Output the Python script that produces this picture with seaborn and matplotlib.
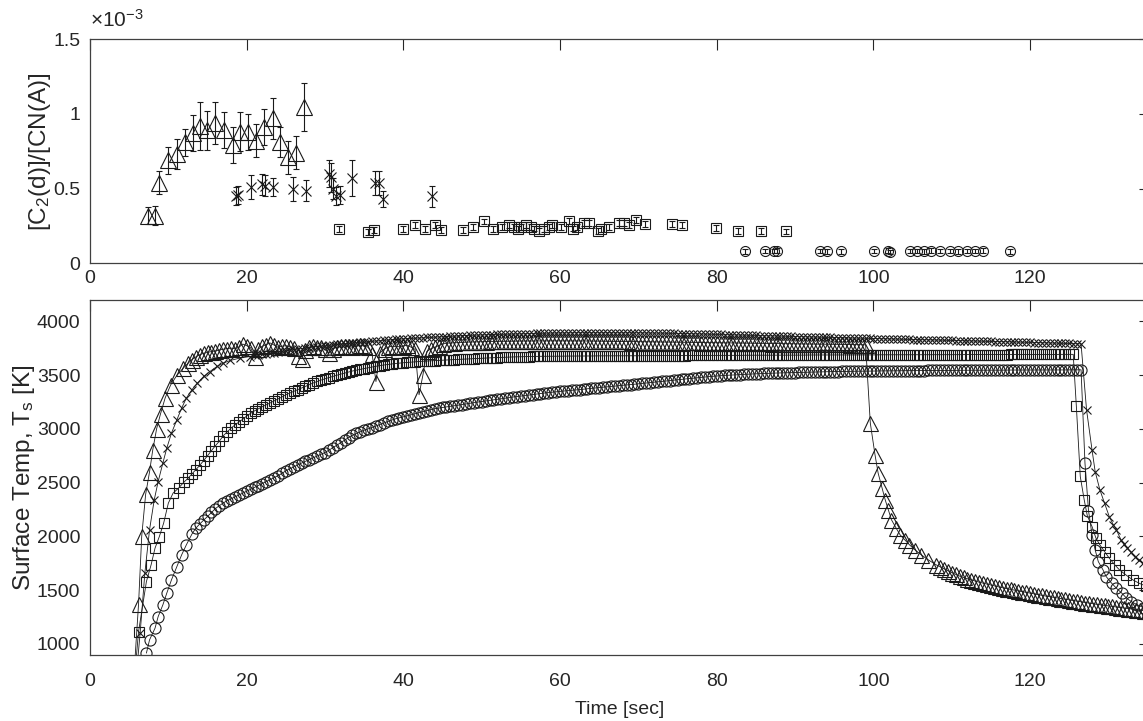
import matplotlib
matplotlib.use("Agg")
import matplotlib.pyplot as plt
import seaborn as sns
from matplotlib.ticker import FuncFormatter


def half_steps(a, b):
    """Sampling instants every 0.5 s from a to b (inclusive)."""
    n = int(round((b - a) / 0.5)) + 1
    return [a + 0.5 * i for i in range(n)]


# ---------------- top panel: [C2(d)]/[CN(A)] ratio (units of 1e-3) ----------------
tri_top_t = [7.4, 8.3, 8.8, 10.0, 11.1, 12.1, 13.1, 14.0, 14.9, 16.0, 17.1, 18.2, 19.1,
             20.2, 21.2, 22.2, 23.3, 24.3, 25.3, 26.3, 27.3]
tri_top_v = [0.32, 0.32, 0.54, 0.69, 0.73, 0.81, 0.87, 0.92, 0.89, 0.94, 0.89, 0.79, 0.88,
             0.88, 0.82, 0.91, 0.97, 0.81, 0.71, 0.74, 1.045]
tri_top_e = [0.06, 0.065, 0.075, 0.09, 0.10, 0.09, 0.12, 0.16, 0.13, 0.14, 0.12, 0.12, 0.13,
             0.12, 0.11, 0.12, 0.14, 0.10, 0.11, 0.11, 0.16]

x_top_t = [18.6, 18.9, 20.5, 21.9, 22.4, 23.3, 25.9, 27.6, 30.5, 30.7, 31.0, 31.4, 31.85,
           33.5, 36.4, 36.9, 37.4, 43.7]
x_top_v = [0.45, 0.46, 0.51, 0.53, 0.52, 0.51, 0.50, 0.485, 0.60, 0.575, 0.50, 0.45, 0.46,
           0.57, 0.54, 0.54, 0.43, 0.45]
x_top_e = [0.06, 0.06, 0.08, 0.07, 0.07, 0.06, 0.08, 0.07, 0.09, 0.10, 0.07, 0.06, 0.06,
           0.12, 0.08, 0.08, 0.055, 0.07]

sq_top_t = [31.8, 35.5, 36.2, 40.0, 41.5, 42.8, 44.0, 44.8, 47.6, 48.9, 50.3, 51.4, 52.6,
            53.5, 54.1, 54.6, 55.0, 55.6, 56.3, 56.7, 57.3, 58.0, 58.6, 59.0, 60.1, 61.1,
            61.6, 62.2, 63.1, 63.7, 64.8, 65.2, 66.2, 67.5, 68.2, 68.8, 69.7, 70.9, 74.3,
            75.5, 79.9, 82.7, 85.6, 88.8]
sq_top_v = [0.23, 0.21, 0.22, 0.23, 0.255, 0.23, 0.255, 0.22, 0.22, 0.24, 0.28, 0.23, 0.24,
            0.255, 0.24, 0.23, 0.245, 0.255, 0.24, 0.233, 0.217, 0.23, 0.245, 0.255, 0.24,
            0.284, 0.233, 0.24, 0.268, 0.27, 0.217, 0.23, 0.245, 0.268, 0.27, 0.255, 0.29,
            0.26, 0.26, 0.255, 0.235, 0.217, 0.217, 0.213]
sq_top_e = 0.02

circ_top_t = [83.6, 86.2, 87.3, 87.7, 93.2, 94.1, 95.8, 100.1, 101.8, 102.1, 104.7, 105.5,
              106.4, 107.4, 108.5, 109.8, 110.8, 111.9, 112.95, 114.0, 117.4]
circ_top_v = [0.08, 0.083, 0.083, 0.085, 0.083, 0.08, 0.08, 0.083, 0.085, 0.075, 0.083,
              0.083, 0.08, 0.085, 0.083, 0.083, 0.08, 0.083, 0.083, 0.085, 0.08]
circ_top_e = 0.015

# ---------------- bottom panel: surface temperature [K] ----------------
# triangles
tri_t = ([5.6, 6.2, 6.6, 7.1, 7.6, 8.0, 8.5, 9.0, 9.6, 10.3, 11.1, 11.9]
         + half_steps(12.5, 99.0)
         + [99.6, 100.2, 100.6, 101.1, 101.5, 101.9, 102.3, 102.9, 103.4, 104.0, 104.6, 105.3,
            106.1, 107.0, 108.0]
         + half_steps(108.5, 135.0))
tri_T = ([700, 1372, 2000, 2390, 2600, 2800, 3000, 3140, 3290, 3410, 3500, 3566]
         + [3610, 3645, 3670, 3690, 3704, 3712, 3720, 3726, 3735, 3742,
            3748, 3752, 3746, 3760, 3790, 3775, 3755, 3674, 3745, 3770,
            3785, 3800, 3780, 3760, 3770, 3775, 3765, 3750, 3680, 3655,
            3730, 3760, 3770, 3765, 3760, 3740, 3706, 3745, 3762, 3770,
            3775, 3768, 3760, 3772, 3780, 3770, 3760, 3700, 3441, 3706,
            3740, 3760, 3770, 3768, 3765, 3772, 3780, 3760, 3740, 3318,
            3504, 3721, 3745, 3760, 3775, 3790, 3798, 3800, 3803, 3805,
            3807, 3808, 3809, 3810, 3811, 3812, 3813, 3814, 3814, 3815,
            3815, 3816, 3816, 3817, 3817, 3818, 3818, 3818, 3819, 3819,
            3819, 3819, 3820, 3820, 3820, 3820, 3820, 3819, 3819, 3819,
            3819, 3818, 3818, 3818, 3817, 3817, 3816, 3816, 3815, 3815,
            3815, 3814, 3814, 3813, 3813, 3812, 3812, 3811, 3811, 3810,
            3810, 3809, 3809, 3808, 3808, 3807, 3807, 3806, 3806, 3805,
            3805, 3804, 3804, 3803, 3803, 3802, 3802, 3801, 3801, 3800,
            3800, 3799, 3799, 3798, 3798, 3797, 3797, 3796, 3796, 3795,
            3795, 3794, 3794, 3793, 3793, 3792, 3792, 3791, 3791, 3790,
            3790, 3789, 3789, 3788, 3788, 3787, 3787, 3786, 3786, 3785,
            3785, 3784, 3784, 3783]
         + [3054, 2759, 2588, 2449, 2340, 2247, 2154, 2076, 2014, 1967, 1921, 1874, 1828,
            1781, 1735]
         + [1716, 1698, 1680, 1662, 1646, 1630, 1617, 1605, 1594, 1583,
            1573, 1564, 1554, 1545, 1537, 1529, 1521, 1514, 1506, 1499,
            1492, 1485, 1478, 1471, 1464, 1458, 1451, 1444, 1438, 1432,
            1426, 1420, 1414, 1408, 1402, 1396, 1390, 1384, 1378, 1373,
            1367, 1362, 1357, 1352, 1347, 1342, 1337, 1332, 1327, 1322,
            1317, 1313, 1309, 1305])

# crosses
x_t = ([5.9, 6.4, 7.0, 7.6, 8.2, 8.7, 9.3, 9.8, 10.4, 11.1, 11.7, 12.3, 13.0, 13.7, 14.5,
        15.3, 16.2, 17.0, 17.9, 19.1, 20.4]
       + half_steps(21.0, 126.5)
       + [127.2, 127.9, 128.3, 128.9, 129.5, 130.1, 130.6, 131.0, 131.6, 132.0, 132.4, 132.9,
          133.4, 133.9, 134.4, 135.0])
x_T = ([700, 1100, 1657, 2061, 2340, 2510, 2682, 2821, 2961, 3085, 3194, 3287, 3364, 3426,
        3488, 3534, 3581, 3612, 3637, 3659, 3674]
       + [3684, 3690, 3695, 3700, 3706, 3711, 3716, 3722, 3727, 3733,
          3738, 3743, 3748, 3752, 3757, 3762, 3766, 3770, 3774, 3778,
          3782, 3786, 3790, 3794, 3797, 3800, 3804, 3807, 3810, 3813,
          3816, 3819, 3822, 3825, 3828, 3830, 3833, 3835, 3838, 3840,
          3843, 3845, 3847, 3849, 3851, 3853, 3855, 3857, 3859, 3860,
          3862, 3864, 3866, 3867, 3869, 3870, 3872, 3873, 3875, 3876,
          3877, 3878, 3880, 3881, 3882, 3883, 3884, 3885, 3886, 3887,
          3888, 3888, 3889, 3890, 3891, 3891, 3892, 3892, 3893, 3893,
          3894, 3894, 3895, 3895, 3895, 3895, 3896, 3896, 3896, 3896,
          3896, 3896, 3896, 3895, 3895, 3895, 3895, 3894, 3894, 3893,
          3893, 3892, 3892, 3891, 3891, 3890, 3890, 3889, 3888, 3887,
          3887, 3886, 3885, 3884, 3884, 3883, 3882, 3881, 3880, 3879,
          3878, 3877, 3876, 3875, 3874, 3873, 3872, 3871, 3870, 3869,
          3868, 3867, 3866, 3865, 3864, 3863, 3862, 3861, 3860, 3859,
          3858, 3857, 3856, 3855, 3854, 3853, 3852, 3851, 3850, 3849,
          3848, 3847, 3846, 3846, 3845, 3844, 3843, 3842, 3841, 3840,
          3839, 3839, 3838, 3837, 3836, 3835, 3834, 3833, 3832, 3831,
          3830, 3830, 3829, 3828, 3827, 3826, 3825, 3824, 3823, 3822,
          3821, 3821, 3820, 3819, 3818, 3817, 3816, 3815, 3814, 3813,
          3812, 3812, 3811, 3810, 3809, 3808, 3807, 3806, 3805, 3804,
          3803, 3803, 3802, 3801, 3800, 3799, 3798, 3797, 3796, 3795,
          3794, 3792]
       + [3178, 2805, 2603, 2433, 2309, 2184, 2110, 2061, 1967, 1930, 1890, 1850, 1812, 1780,
          1750, 1720])

# squares
sq_t = ([5.7, 6.2, 7.2, 7.8, 8.3, 8.85, 9.4, 10.0, 10.6, 11.3, 12.0]
        + half_steps(12.5, 125.5)
        + [125.9, 126.4, 126.9, 127.3, 127.9, 128.4, 128.9, 129.5, 130.1, 130.8, 131.4, 132.2,
           133.1, 133.9, 134.8])
sq_T = ([700, 1114, 1579, 1735, 1890, 1998, 2123, 2309, 2402, 2449, 2505]
        + [2540, 2580, 2620, 2660, 2705, 2750, 2798, 2843, 2885, 2935,
           2972, 3007, 3037, 3064, 3090, 3120, 3145, 3168, 3188, 3207,
           3224, 3242, 3260, 3278, 3297, 3318, 3334, 3350, 3365, 3380,
           3396, 3412, 3428, 3442, 3455, 3467, 3478, 3489, 3500, 3510,
           3520, 3530, 3539, 3547, 3555, 3562, 3569, 3576, 3583, 3590,
           3595, 3600, 3605, 3609, 3613, 3616, 3619, 3622, 3625, 3628,
           3630, 3632, 3634, 3636, 3638, 3640, 3642, 3643, 3645, 3647,
           3649, 3650, 3652, 3654, 3656, 3658, 3660, 3661, 3663, 3664,
           3666, 3667, 3669, 3670, 3671, 3672, 3673, 3674, 3675, 3675,
           3676, 3676, 3677, 3677, 3677, 3677, 3678, 3678, 3678, 3678,
           3679, 3679, 3679, 3679, 3680, 3680, 3680, 3680, 3680, 3680,
           3681, 3681, 3681, 3681, 3681, 3681, 3682, 3682, 3682, 3682,
           3682, 3682, 3683, 3683, 3683, 3683, 3683, 3683, 3684, 3684,
           3684, 3684, 3684, 3684, 3685, 3685, 3685, 3685, 3685, 3685,
           3685, 3685, 3686, 3686, 3686, 3686, 3686, 3686, 3686, 3686,
           3687, 3687, 3687, 3687, 3687, 3687, 3687, 3687, 3688, 3688,
           3688, 3688, 3688, 3688, 3688, 3688, 3688, 3688, 3689, 3689,
           3689, 3689, 3689, 3689, 3689, 3689, 3690, 3690, 3690, 3690,
           3690, 3690, 3690, 3690, 3690, 3690, 3690, 3690, 3691, 3691,
           3691, 3691, 3691, 3691, 3691, 3691, 3691, 3691, 3692, 3692,
           3692, 3692, 3692, 3692, 3692, 3692, 3692, 3692, 3692, 3692,
           3693, 3693, 3693, 3693, 3693, 3693, 3693, 3693, 3693, 3693,
           3693, 3693, 3694, 3694, 3694, 3694, 3694]
        + [3209, 2557, 2340, 2191, 2091, 1983, 1921, 1858, 1797, 1735, 1688, 1642, 1595, 1564,
           1535])

# circles
circ_t = ([7.2, 7.6, 8.3, 8.7, 9.3, 9.8, 10.4, 11.1, 11.7, 12.3]
          + half_steps(13.0, 126.5)
          + [127.0, 127.45, 127.9, 128.3, 128.7, 129.3, 129.7, 130.4, 131.0, 131.7, 132.3,
             132.9, 133.7, 134.5])
circ_T = ([913, 1036, 1145, 1253, 1362, 1471, 1595, 1719, 1828, 1921]
          + [2020, 2075, 2115, 2150, 2185, 2222, 2258, 2285, 2310, 2332,
             2348, 2367, 2384, 2402, 2420, 2437, 2455, 2473, 2491, 2510,
             2528, 2546, 2564, 2586, 2610, 2628, 2645, 2664, 2682, 2698,
             2715, 2731, 2748, 2764, 2780, 2802, 2825, 2848, 2870, 2895,
             2920, 2940, 2958, 2973, 2988, 3000, 3013, 3027, 3040, 3055,
             3070, 3082, 3094, 3103, 3112, 3122, 3132, 3142, 3152, 3161,
             3170, 3179, 3188, 3194, 3200, 3205, 3210, 3215, 3221, 3227,
             3233, 3239, 3245, 3250, 3255, 3260, 3265, 3270, 3275, 3280,
             3286, 3291, 3297, 3301, 3306, 3310, 3315, 3320, 3325, 3329,
             3334, 3338, 3342, 3346, 3350, 3353, 3356, 3359, 3362, 3366,
             3370, 3373, 3377, 3381, 3385, 3388, 3392, 3395, 3399, 3402,
             3406, 3409, 3413, 3416, 3420, 3424, 3428, 3431, 3435, 3438,
             3442, 3446, 3450, 3453, 3457, 3461, 3465, 3468, 3472, 3476,
             3480, 3483, 3487, 3490, 3494, 3496, 3498, 3500, 3502, 3504,
             3506, 3508, 3510, 3511, 3513, 3514, 3516, 3517, 3519, 3520,
             3521, 3522, 3523, 3524, 3525, 3526, 3527, 3528, 3529, 3530,
             3531, 3531, 3532, 3533, 3534, 3534, 3535, 3535, 3536, 3536,
             3537, 3537, 3538, 3538, 3539, 3539, 3540, 3540, 3541, 3541,
             3541, 3542, 3542, 3542, 3543, 3543, 3543, 3543, 3544, 3544,
             3544, 3544, 3545, 3545, 3545, 3545, 3546, 3546, 3546, 3546,
             3546, 3546, 3547, 3547, 3547, 3547, 3547, 3547, 3548, 3548,
             3548, 3548, 3548, 3548, 3548, 3548, 3549, 3549, 3549, 3549,
             3549, 3549, 3549, 3549, 3550, 3550, 3550, 3550]
          + [2682, 2240, 2014, 1874, 1765, 1688, 1626, 1564, 1518, 1471, 1425, 1393, 1362,
             1335])

x_ticks = [0, 20, 40, 60, 80, 100, 120]
top_yticks = [0, 0.5, 1, 1.5]
bot_yticks = [1000, 1500, 2000, 2500, 3000, 3500, 4000]

for name, a, b in [('tri', tri_t, tri_T), ('x', x_t, x_T), ('sq', sq_t, sq_T),
                   ('circ', circ_t, circ_T)]:
    if len(a) != len(b):
        raise SystemExit('length mismatch %s: %d vs %d' % (name, len(a), len(b)))

# ---------------- styling ----------------
sns.set_theme(style="white")
plt.rcParams['font.family'] = ['Liberation Sans', 'DejaVu Sans']
plt.rcParams['mathtext.fontset'] = 'custom'
plt.rcParams['mathtext.rm'] = 'Liberation Sans'
plt.rcParams['mathtext.it'] = 'Liberation Sans:italic'
plt.rcParams['mathtext.default'] = 'regular'

INK = '#1a1a1a'
TXT = '#262626'
FS = 14

fig = plt.figure(figsize=(11.43, 7.21), dpi=100)
fig.patch.set_facecolor('white')
W, H = 1143.0, 721.0
left_px, right_px = 90.0, 1150.0
ax1 = fig.add_axes([left_px / W, 1 - 263.3 / H, (right_px - left_px) / W, (263.3 - 39.3) / H])
ax2 = fig.add_axes([left_px / W, 1 - 654.5 / H, (right_px - left_px) / W, (654.5 - 300.0) / H])


def line_series(ax, t, v, marker, ms, ls='-'):
    sns.lineplot(x=t, y=v, ax=ax, estimator=None, sort=False, color=INK,
                 marker=marker, markersize=ms, markerfacecolor='none',
                 markeredgecolor=INK, markeredgewidth=0.8, linewidth=0.6,
                 linestyle=ls, legend=False)


def err_series(ax, t, v, e, marker, ms):
    ax.errorbar(t, v, yerr=e, fmt='none', ecolor=INK, elinewidth=0.8,
                capsize=2.0, capthick=0.8, zorder=2)
    sns.lineplot(x=t, y=v, ax=ax, estimator=None, sort=False, color=INK,
                 marker=marker, markersize=ms, markerfacecolor='none',
                 markeredgecolor=INK, markeredgewidth=0.8, linestyle='none',
                 legend=False)


# top panel
err_series(ax1, tri_top_t, tri_top_v, tri_top_e, '^', 12.0)
err_series(ax1, x_top_t, x_top_v, x_top_e, 'x', 7.0)
err_series(ax1, sq_top_t, sq_top_v, sq_top_e, 's', 6.5)
err_series(ax1, circ_top_t, circ_top_v, circ_top_e, 'o', 7.2)
ax1.set_ylim(0, 1.5)
ax1.set_yticks(top_yticks)
ax1.yaxis.set_major_formatter(FuncFormatter(lambda v, p: '%g' % v))
ax1.set_ylabel('[C$_2$(d)]/[CN(A)]', fontsize=17.5, color=TXT, labelpad=0)
ax1.text(0.0, 1.054, r'$\times$10$^{-3}$', transform=ax1.transAxes, ha='left',
         va='baseline', fontsize=15, color=TXT)

# bottom panel
line_series(ax2, circ_t, circ_T, 'o', 8.0)
line_series(ax2, sq_t, sq_T, 's', 7.2)
line_series(ax2, x_t, x_T, 'x', 6.0)
line_series(ax2, tri_t, tri_T, '^', 10.8)
ax2.set_ylim(900, 4200)
ax2.set_yticks(bot_yticks)
ax2.set_ylabel('Surface Temp, T$_\\mathrm{s}$ [K]', fontsize=17.5, color=TXT, labelpad=0)
ax2.set_xlabel('Time [sec]', fontsize=FS, color=TXT, labelpad=8)

for ax in (ax1, ax2):
    ax.set_xlim(0, 135.3)
    ax.set_xticks(x_ticks)
    ax.set_facecolor('white')
    ax.tick_params(axis='both', direction='in', length=8, width=0.8, top=True,
                   right=True, labelsize=FS, colors=TXT)
    ax.tick_params(axis='y', pad=7)
    for s in ax.spines.values():
        s.set_color('#404040')
        s.set_linewidth(0.9)
    ax.grid(False)
ax1.tick_params(axis='x', pad=5)
ax2.tick_params(axis='x', pad=13)

fig.savefig('out.png', dpi=100, facecolor='white')
